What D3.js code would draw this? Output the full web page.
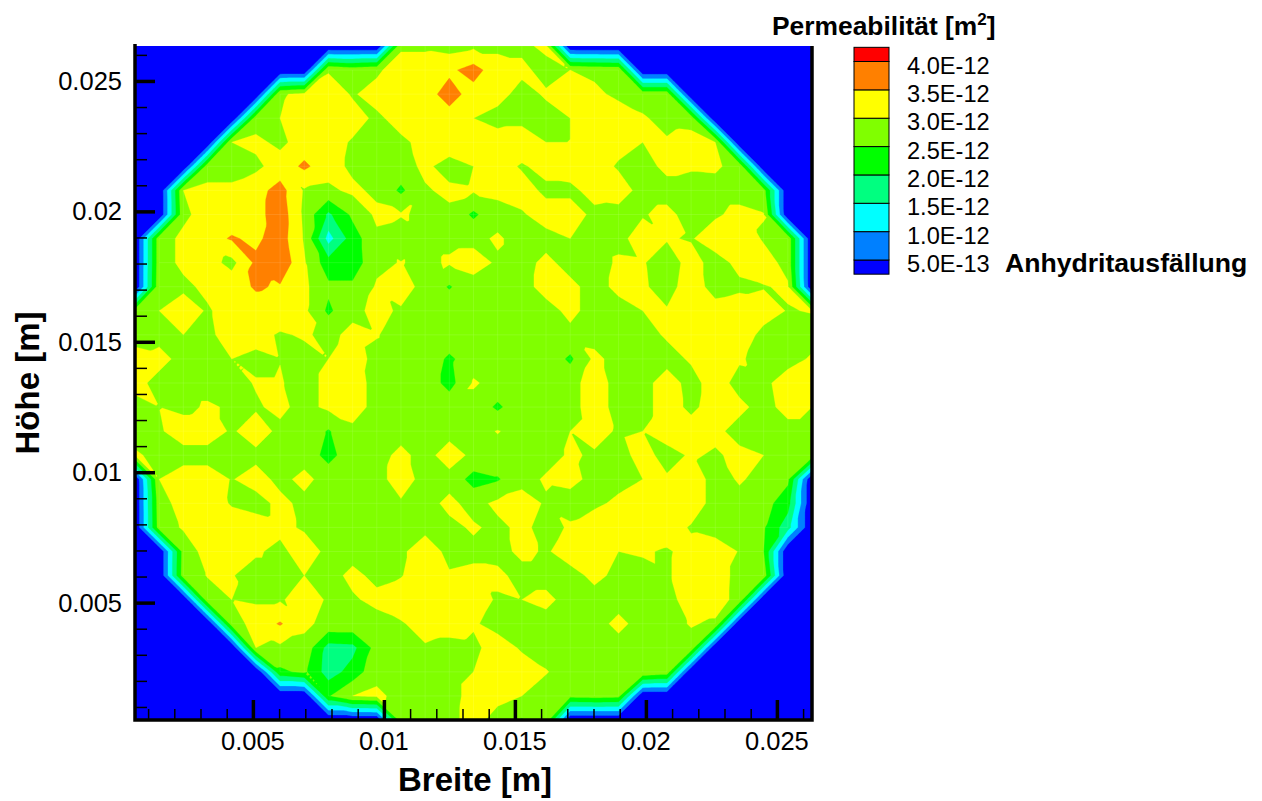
<!DOCTYPE html>
<html><head><meta charset="utf-8">
<script src="https://cdn.jsdelivr.net/npm/d3@7"></script>
<style>html,body{margin:0;padding:0;background:#fff}svg{display:block}text{font-family:"Liberation Sans",Arial,sans-serif;fill:#000}</style>
</head><body><svg id="c" width="1262" height="801"></svg>
<script>
// Permeability in 1E-12 m2, rows from top (high y) to bottom, 29 x 29 nodes
const permeability = [
[0,0,0,0,0,0,0,0,0,0,0,2.9,2.9,2.8,2.9,2.9,2.9,3.1,0,0,0,0,0,0,0,0,0,0,0],
[0,0,0,0,0,0,0,0,2.95,2.8,2.9,3.3,3.3,3.4,3.7,3.2,3.1,2.85,3.0,2.9,2.85,0,0,0,0,0,0,0,0],
[0,0,0,0,0,0,2.95,3.1,3.3,2.95,3.2,3.3,3.3,3.7,3.3,3.15,2.85,3.05,3.2,3.1,2.9,2.8,2.8,0,0,0,0,0,0],
[0,0,0,0,0,2.8,3.0,3.2,3.3,3.2,2.9,3.2,3.3,3.3,3.0,2.85,2.85,2.85,3.0,3.2,3.25,3.05,2.85,2.8,0,0,0,0,0],
[0,0,0,0,3.0,3.1,2.9,3.2,3.2,2.95,2.8,2.9,3.15,3.3,3.2,3.2,3.3,3.0,3.0,3.2,3.15,3.0,3.05,3.2,3.0,0,0,0,0],
[0,0,0,2.8,2.8,2.9,3.2,3.6,3.2,2.9,2.8,2.8,3.1,2.8,3.0,3.2,2.95,3.15,3.2,3.2,2.95,2.85,3.1,3.04,3.06,2.85,0,0,0],
[0,0,3.0,3.1,3.1,3.3,3.7,2.95,2.9,3.1,2.9,2.4,2.95,3.1,3.05,3.1,3.2,2.9,2.9,3.15,3.2,2.85,2.85,2.85,2.85,2.85,2.7,0,0],
[0,0,2.9,3.2,3.2,3.3,3.8,2.9,1.9,2.6,3.1,3.05,2.9,2.9,2.4,2.85,2.95,3.2,3.2,2.9,2.85,2.97,3.1,2.85,2.95,3.1,3.02,0,0],
[0,2.8,3.1,3.3,3.55,3.4,3.75,2.95,1.3,2.25,2.9,2.6,2.9,2.9,2.9,3.05,2.85,2.85,3.0,2.85,2.9,3.16,3.03,2.97,3.2,3.3,2.95,2.85,0],
[0,2.8,3.1,3.2,2.85,3.6,3.9,3.05,2.2,2.2,2.9,3.02,2.9,3.05,3.15,2.95,2.85,3.1,2.85,2.85,3.05,3.03,2.8,3.15,2.85,3.1,3.2,2.85,0],
[0,2.85,2.9,3.1,3.3,3.55,3.45,3.1,2.6,2.6,3.05,3.2,2.85,2.45,2.85,2.85,2.85,3.15,3.1,2.85,3.1,3.05,2.85,3.2,2.85,2.93,2.98,3.05,0],
[2.7,3.0,3.25,2.95,3.2,3.3,3.3,3.1,2.4,2.9,3.1,2.95,2.85,2.85,2.85,2.85,2.85,2.85,3.1,2.85,2.85,3.0,3.03,3.2,3.15,3.2,3.15,2.98,3.02],
[2.8,2.9,3.0,2.9,3.2,3.15,2.95,3.05,2.9,3.1,3.02,2.85,2.85,2.85,2.85,2.85,2.85,2.85,2.9,2.85,2.85,2.85,3.05,3.1,3.2,3.2,2.9,2.85,2.85],
[3.2,3.1,2.9,2.85,3.0,2.9,2.99,2.85,3.0,3.15,2.9,2.85,2.85,2.4,2.8,2.85,2.85,2.85,2.4,3.1,2.85,2.85,2.85,3.05,3.2,3.05,2.85,2.85,3.05],
[3.1,2.9,2.85,2.85,2.85,3.03,3.03,2.85,3.1,3.2,2.85,2.85,2.85,2.3,3.05,2.85,2.85,2.85,2.85,3.2,2.85,2.85,3.2,2.85,3.2,2.85,2.9,3.2,3.3],
[2.9,3.0,2.9,3.05,2.95,2.95,3.1,2.85,3.1,3.2,2.85,2.85,2.85,2.85,2.85,2.4,2.85,2.85,2.85,3.2,2.85,2.85,3.2,2.9,3.2,3.1,2.85,3.15,3.0],
[2.85,2.95,3.2,3.2,2.95,3.2,2.9,2.85,2.45,2.9,2.85,2.85,2.85,2.85,2.85,3.02,2.85,2.85,3.0,3.15,2.95,3.0,3.2,3.2,3.1,2.85,2.85,2.85,2.85],
[3.05,2.9,2.85,2.85,2.85,2.9,2.85,2.85,2.3,2.85,2.85,3.1,2.85,3.2,2.9,2.85,2.85,2.85,3.05,2.95,2.85,3.15,2.85,3.05,2.95,3.1,3.0,2.85,2.8],
[0,3.0,3.2,3.2,2.98,3.15,2.9,3.1,2.85,2.85,2.85,3.2,2.85,2.85,2.3,2.45,2.85,3.05,3.1,2.9,2.85,3.0,3.05,3.3,2.8,3.05,2.85,2.6,0],
[0,2.8,3.2,3.3,2.95,2.85,3.1,2.9,2.85,2.85,2.85,2.95,2.85,3.1,2.85,3.1,3.2,2.95,2.85,2.9,3.1,3.3,3.3,3.3,2.8,2.85,2.7,2.2,0],
[0,2.75,3.05,3.3,3.3,3.2,3.1,2.95,2.85,2.85,2.85,2.85,2.85,2.9,3.05,2.9,3.1,2.85,3.05,3.3,3.3,3.3,3.25,2.95,2.85,2.85,2.55,1.7,0],
[0,0,2.7,3.2,3.3,3.05,2.9,3.2,2.9,2.85,2.99,2.9,3.3,2.85,2.9,2.85,3.1,2.95,3.2,3.2,3.0,3.05,2.95,3.15,3.2,2.98,2.5,0,0],
[0,0,2.75,3.02,3.02,2.85,2.85,3.0,2.85,3.1,2.9,2.97,3.3,3.05,3.1,3.1,2.85,2.85,2.85,3.1,2.9,2.85,2.95,3.2,3.2,2.87,2.8,0,0],
[0,0,0,2.8,3.0,2.95,2.95,3.2,2.95,2.95,3.1,3.3,3.3,3.3,3.2,2.95,3.0,3.1,2.85,2.85,2.85,2.85,2.85,3.2,3.2,2.85,0,0,0],
[0,0,0,0,2.75,3.2,3.55,3.1,2.85,2.85,2.85,2.95,3.2,3.2,3.05,2.85,2.85,2.85,2.85,2.85,3.1,2.85,2.85,3.03,2.94,0,0,0,0],
[0,0,0,0,0,3.0,2.9,2.85,1.8,1.85,2.7,2.85,2.95,2.85,2.9,3.2,2.95,2.85,2.85,2.85,2.85,2.85,2.85,2.85,0,0,0,0,0],
[0,0,0,0,0,0,2.4,2.6,1.75,2.2,2.85,2.85,2.85,2.85,3.0,3.3,3.2,3.02,2.85,2.85,2.85,2.95,2.8,0,0,0,0,0,0],
[0,0,0,0,0,0,0,0,2.45,3.0,3.1,2.85,2.85,2.85,3.15,3.15,3.0,2.85,2.65,2.7,2.65,0,0,0,0,0,0,0,0],
[0,0,0,0,0,0,0,0,0,0,0,2.8,2.85,2.85,3.2,2.8,2.45,2.85,0,0,0,0,0,0,0,0,0,0,0]
];
const levels = [0.5,1.0,1.5,2.0,2.5,3.0,3.5,4.0];
const levelLabels = ["5.0E-13","1.0E-12","1.5E-12","2.0E-12","2.5E-12","3.0E-12","3.5E-12","4.0E-12"];
const bandColors = ["#0000ff","#0080ff","#00ffff","#00ff80","#00ff00","#80ff00","#ffff00","#ff8000","#ff0000"];
const majorTicks = [0.005,0.01,0.015,0.02,0.025];
const minorTicks = [0.001,0.002,0.003,0.004,0.006,0.007,0.008,0.009,0.011,0.012,0.013,0.014,0.016,0.017,0.018,0.019,0.021,0.022,0.023,0.024,0.026];
const domain = [0.0005,0.02634];

const svg = d3.select("#c");
const L=135,R=812,T=46,B=720;
const x = d3.scaleLinear().domain(domain).range([L,R]);
const y = d3.scaleLinear().domain(domain).range([B,T]);
const n = permeability.length;
const k = 8; // contour raster per grid cell
const m = (n-1)*k+1;
const ix = d3.scaleLinear().domain([0,m-1]).range([L,R]);
const iy = d3.scaleLinear().domain([0,m-1]).range([T,B]);

svg.append("clipPath").attr("id","plot").append("rect").attr("x",L).attr("y",T).attr("width",R-L).attr("height",B-T);
const plot = svg.append("g").attr("clip-path","url(#plot)");
plot.append("rect").attr("x",L).attr("y",T).attr("width",R-L).attr("height",B-T).attr("fill",bandColors[0]);

// Linear interpolation on the triangles of each cell (the way the source contours its mesh):
// the diagonal joins the closer pair of corners, preferring NW-SE.
function field(a,b){
  const i=Math.min(Math.floor(a/k),n-2), j=Math.min(Math.floor(b/k),n-2);
  const u=a/k-i, v=b/k-j;
  const nw=permeability[j][i], ne=permeability[j][i+1], sw=permeability[j+1][i], se=permeability[j+1][i+1];
  if(Math.abs(nw-se)<=Math.abs(ne-sw)+0.15){
    return u>=v ? nw+u*(ne-nw)+v*(se-ne) : nw+v*(sw-nw)+u*(se-sw);
  }
  return u+v<=1 ? nw+u*(ne-nw)+v*(sw-nw) : se+(1-u)*(sw-se)+(1-v)*(ne-se);
}
const values=new Float64Array(m*m);
for(let b=0;b<m;b++)for(let a=0;a<m;a++)values[b*m+a]=field(a,b);
const contours = d3.contours().size([m,m]).smooth(true).thresholds(levels)(values);
const path = d3.geoPath(d3.geoTransform({point(a,b){this.stream.point(ix(a-0.5),iy(b-0.5));}}));
plot.selectAll("path.c").data(contours).join("path").attr("class","c")
  .attr("d",path).attr("fill",(d,i)=>bandColors[i+1]).attr("stroke",(d,i)=>bandColors[i+1]).attr("stroke-width",0.3);

// faint mesh seams
const seams=[];
permeability.forEach((row,j)=>row.forEach((v,i)=>{
  if(v>0&&i<n-1&&row[i+1]>0)seams.push([i,j,i+1,j]);
  if(v>0&&j<n-1&&permeability[j+1][i]>0)seams.push([i,j,i,j+1]);
}));
plot.append("g").selectAll("line").data(seams).join("line")
  .attr("x1",d=>ix(d[0]*k)).attr("y1",d=>iy(d[1]*k)).attr("x2",d=>ix(d[2]*k)).attr("y2",d=>iy(d[3]*k))
  .attr("stroke","#fff").attr("stroke-opacity",0.1).attr("stroke-width",1);

// axes
function styleAxis(g,w){g.select(".domain").remove();g.selectAll("line").attr("stroke","#000").attr("stroke-width",w);}
const font=25.5;
svg.append("g").attr("transform",`translate(${L},0)`).call(d3.axisRight(y).tickValues(minorTicks).tickSize(12).tickFormat("")).call(g=>styleAxis(g,1.5));
svg.append("g").attr("transform",`translate(0,${B})`).call(d3.axisTop(x).tickValues(minorTicks).tickSize(11).tickFormat("")).call(g=>styleAxis(g,1.5));
svg.append("g").attr("transform",`translate(${L},0)`).call(d3.axisRight(y).tickValues(majorTicks).tickSize(20).tickFormat("")).call(g=>styleAxis(g,3.5));
svg.append("g").attr("transform",`translate(0,${B})`).call(d3.axisTop(x).tickValues(majorTicks).tickSize(20).tickFormat("")).call(g=>styleAxis(g,3.5));
svg.append("g").selectAll("text").data(majorTicks).join("text").attr("x",122).attr("y",d=>y(d)+9).attr("text-anchor","end").attr("font-size",font).text(d=>d);
svg.append("g").selectAll("text").data(majorTicks).join("text").attr("x",d=>x(d)).attr("y",750).attr("text-anchor","middle").attr("font-size",font).text(d=>d);

svg.append("path").attr("d",`M${L},${T-2}V${B}H${R}V${T}`).attr("fill","none").attr("stroke","#000").attr("stroke-width",3.5);

svg.append("text").attr("x",475).attr("y",791).attr("text-anchor","middle").attr("font-size",33).attr("font-weight","bold").text("Breite [m]");
svg.append("text").attr("transform","translate(39,383) rotate(-90)").attr("text-anchor","middle").attr("font-size",33).attr("font-weight","bold").text("Höhe [m]");

// legend
const ly = d3.scaleLinear().domain([0.5,4.0]).range([260,61.5]);
const bandEdges = [0.25,...levels,4.25];
const lg = svg.append("g");
lg.selectAll("rect").data(bandColors).join("rect").attr("x",854).attr("width",35)
  .attr("y",(d,i)=>ly(bandEdges[i+1])).attr("height",(d,i)=>ly(bandEdges[i])-ly(bandEdges[i+1]))
  .attr("fill",d=>d).attr("stroke","#000").attr("stroke-width",1);
lg.selectAll("text").data(levels).join("text").attr("x",907).attr("y",d=>ly(d)+12).attr("font-size",23.6).text((d,i)=>levelLabels[i]);
svg.append("text").attr("x",1005).attr("y",272).attr("font-size",26.6).attr("font-weight","bold").text("Anhydritausfällung");
const title = svg.append("text").attr("x",772).attr("y",35).attr("font-size",26.4).attr("font-weight","bold");
title.append("tspan").text("Permeabilität [m");
title.append("tspan").attr("dy",-10).attr("font-size",17).text("2");
title.append("tspan").attr("dy",10).text("]");
</script></body></html>
